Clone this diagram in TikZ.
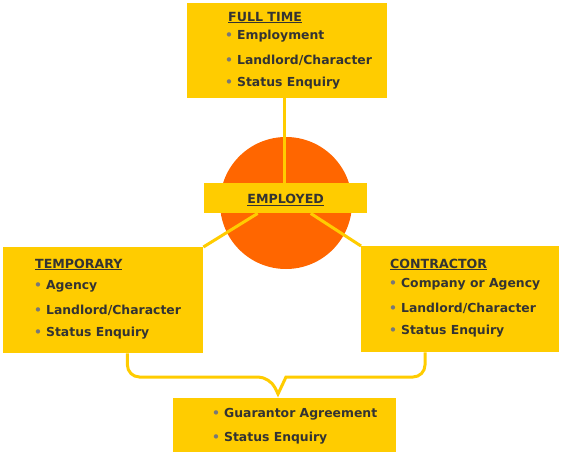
\documentclass[tikz,border=0pt]{standalone}
\usepackage{fontspec}
\setmainfont{DejaVu Sans}
\usepackage{xcolor}
\usetikzlibrary{positioning}
\definecolor{boxyellow}{RGB}{255, 204, 0}
\definecolor{circleorange}{RGB}{255, 102, 0}
\definecolor{textgray}{RGB}{51, 51, 51}
\definecolor{dotgray}{RGB}{120, 120, 120}
\newcommand{\bul}{\textcolor{dotgray}{\textbullet}\hspace{4pt}}

\begin{document}
\begin{tikzpicture}[
    x=1pt, y=1pt,
    card/.style={rectangle, fill=boxyellow, inner sep=0pt, anchor=north west},
    head/.style={anchor=west, inner sep=0pt, yshift=-1.5pt, text=textgray, font=\bfseries\fontsize{12.6}{14}\selectfont},
    item/.style={anchor=west, inner sep=0pt, yshift=-1.5pt, text=textgray, font=\bfseries\fontsize{12.4}{14}\selectfont},
    link/.style={draw=boxyellow, line width=3pt}
]
    \useasboundingbox (0,0) rectangle (562,-457);

    % Circle behind the centre
    \node (ring) [circle, fill=circleorange, minimum size=132pt, inner sep=0pt] at (286,-203) {};

    % Boxes
    \node (full) [card, minimum width=200pt, minimum height=95pt] at (187,-3) {};
    \node (emp) [card, minimum width=163pt, minimum height=30pt] at (204,-183) {};
    \node (temp) [card, minimum width=200pt, minimum height=106pt] at (3,-247) {};
    \node (contr) [card, minimum width=198pt, minimum height=106pt] at (361,-246) {};
    \node (gua) [card, minimum width=223pt, minimum height=54pt] at (173,-398) {};

    % Full time
    \node (fullhead) [head] at (228,-16) {\underline{FULL TIME}};
    \node (full1) [item] at (225,-35) {\bul Employment};
    \node (full2) [item] at (225,-59) {\bul Landlord/Character};
    \node (full3) [item] at (225,-82) {\bul Status Enquiry};

    % Employed
    \node (emphead) [head, anchor=center] at (emp.center) {\underline{EMPLOYED}};

    % Temporary
    \node (temphead) [head] at (35,-263) {\underline{TEMPORARY}};
    \node (temp1) [item] at (34,-285) {\bul Agency};
    \node (temp2) [item] at (34,-309) {\bul Landlord/Character};
    \node (temp3) [item] at (34,-332) {\bul Status Enquiry};

    % Contractor
    \node (contrhead) [head] at (390,-263) {\underline{CONTRACTOR}};
    \node (contr1) [item] at (389,-283) {\bul Company or Agency};
    \node (contr2) [item] at (389,-307) {\bul Landlord/Character};
    \node (contr3) [item] at (389,-330) {\bul Status Enquiry};

    % Guarantor
    \node (gua1) [item] at (212,-413) {\bul Guarantor Agreement};
    \node (gua2) [item] at (212,-437) {\bul Status Enquiry};

    % Links
    \draw [link] (emp.north -| 284,0) -- (full.south -| 284,0);
    \draw [link] ([xshift=-28pt]emp.south) -- (temp.north east);
    \draw [link] ([xshift=25pt]emp.south) -- (contr.north west);

    % Bracket to the guarantor box
    \coordinate (tip) at (278,-394);
    \draw [link] ([xshift=-76pt]temp.south east) [rounded corners=12pt] |- (270,-377)
        [sharp corners] -- (tip) -- (286,-377) -- (296,-377)
        [rounded corners=12pt] -| ([xshift=64pt]contr.south west);
\end{tikzpicture}
\end{document}
